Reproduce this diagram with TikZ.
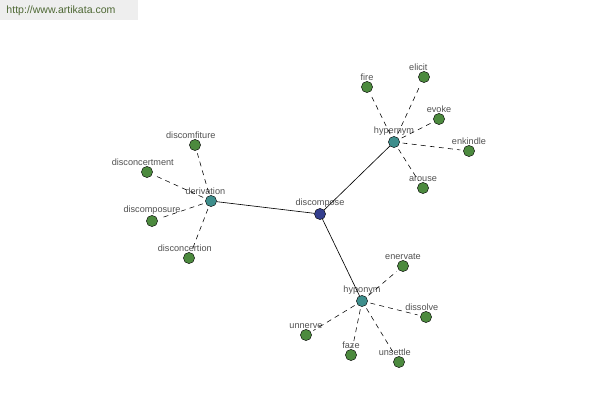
\documentclass[tikz,border=0pt]{standalone}
\usepackage{fontspec}
\setmainfont{Liberation Sans}
\usepackage{tikz}
\usepackage{xcolor}
\definecolor{leaf}{RGB}{76,138,62}
\definecolor{hub}{RGB}{62,142,140}
\definecolor{root}{RGB}{52,62,142}
\definecolor{labeltext}{RGB}{80,80,80}
\definecolor{sitetext}{RGB}{78,104,52}
\definecolor{sitebox}{RGB}{238,238,238}

\begin{document}
\begin{tikzpicture}[
            x = 0.025cm, y = -0.025cm,
            dot/.style = {circle, draw = black, line width = 0.3pt, minimum size = 0.28cm, inner sep = 0pt},
            lbl/.style = {font = \fontsize{6.5}{7}\selectfont, text = labeltext, inner sep = 0.5pt, label distance = 0pt},
            word/.style = {dot, fill = leaf},
            rel/.style = {dot, fill = hub},
            spoke/.style = {dashed, dash pattern = on 3.5pt off 3pt, line width = 0.4pt, shorten < = 2pt, shorten > = 2pt},
            arm/.style = {line width = 0.45pt}
            ]
            \useasboundingbox (0,0) rectangle (600,400);
            \fill[sitebox] (0,0) rectangle (138,20);
            \node[font = \fontsize{7.5}{8}\selectfont, text = sitetext] (site) at (61,11) {http://www.artikata.com};

            % centre and relations
            \node[dot, fill = root, label = {[lbl]above:discompose}] (discompose) at (320,214) {};
            \node[rel, label = {[lbl]above:hypernym}] (hypernym) at (394,142) {};
            \node[rel, label = {[lbl, xshift = -4pt]above:derivation}] (derivation) at (211,201) {};
            \node[rel, label = {[lbl]above:hyponym}] (hyponym) at (362,301) {};

            % hypernym words
            \node[word, label = {[lbl]above:fire}] (fire) at (367,87) {};
            \node[word, label = {[lbl, xshift = -4pt]above:elicit}] (elicit) at (424,77) {};
            \node[word, label = {[lbl]above:evoke}] (evoke) at (439,119) {};
            \node[word, label = {[lbl]above:enkindle}] (enkindle) at (469,151) {};
            \node[word, label = {[lbl]above:arouse}] (arouse) at (423,188) {};

            % derivation words
            \node[word, label = {[lbl, xshift = -3pt]above:discomfiture}] (discomfiture) at (195,145) {};
            \node[word, label = {[lbl, xshift = -3pt]above:disconcertment}] (disconcertment) at (147,172) {};
            \node[word, label = {[lbl]above:discomposure}] (discomposure) at (152,221) {};
            \node[word, label = {[lbl, xshift = -3pt]above:disconcertion}] (disconcertion) at (189,258) {};

            % hyponym words
            \node[word, label = {[lbl]above:enervate}] (enervate) at (403,266) {};
            \node[word, label = {[lbl, xshift = -3pt]above:dissolve}] (dissolve) at (426,317) {};
            \node[word, label = {[lbl]above:unnerve}] (unnerve) at (306,335) {};
            \node[word, label = {[lbl]above:faze}] (faze) at (351,355) {};
            \node[word, label = {[lbl, xshift = -3pt]above:unsettle}] (unsettle) at (399,362) {};

            \foreach \r in {hypernym, derivation, hyponym}
                \draw[arm] (discompose) -- (\r);
            \foreach \w in {fire, elicit, evoke, enkindle, arouse}
                \draw[spoke] (hypernym) -- (\w);
            \foreach \w in {discomfiture, disconcertment, discomposure, disconcertion}
                \draw[spoke] (derivation) -- (\w);
            \foreach \w in {enervate, dissolve, unnerve, faze, unsettle}
                \draw[spoke] (hyponym) -- (\w);
        \end{tikzpicture}
\end{document}
